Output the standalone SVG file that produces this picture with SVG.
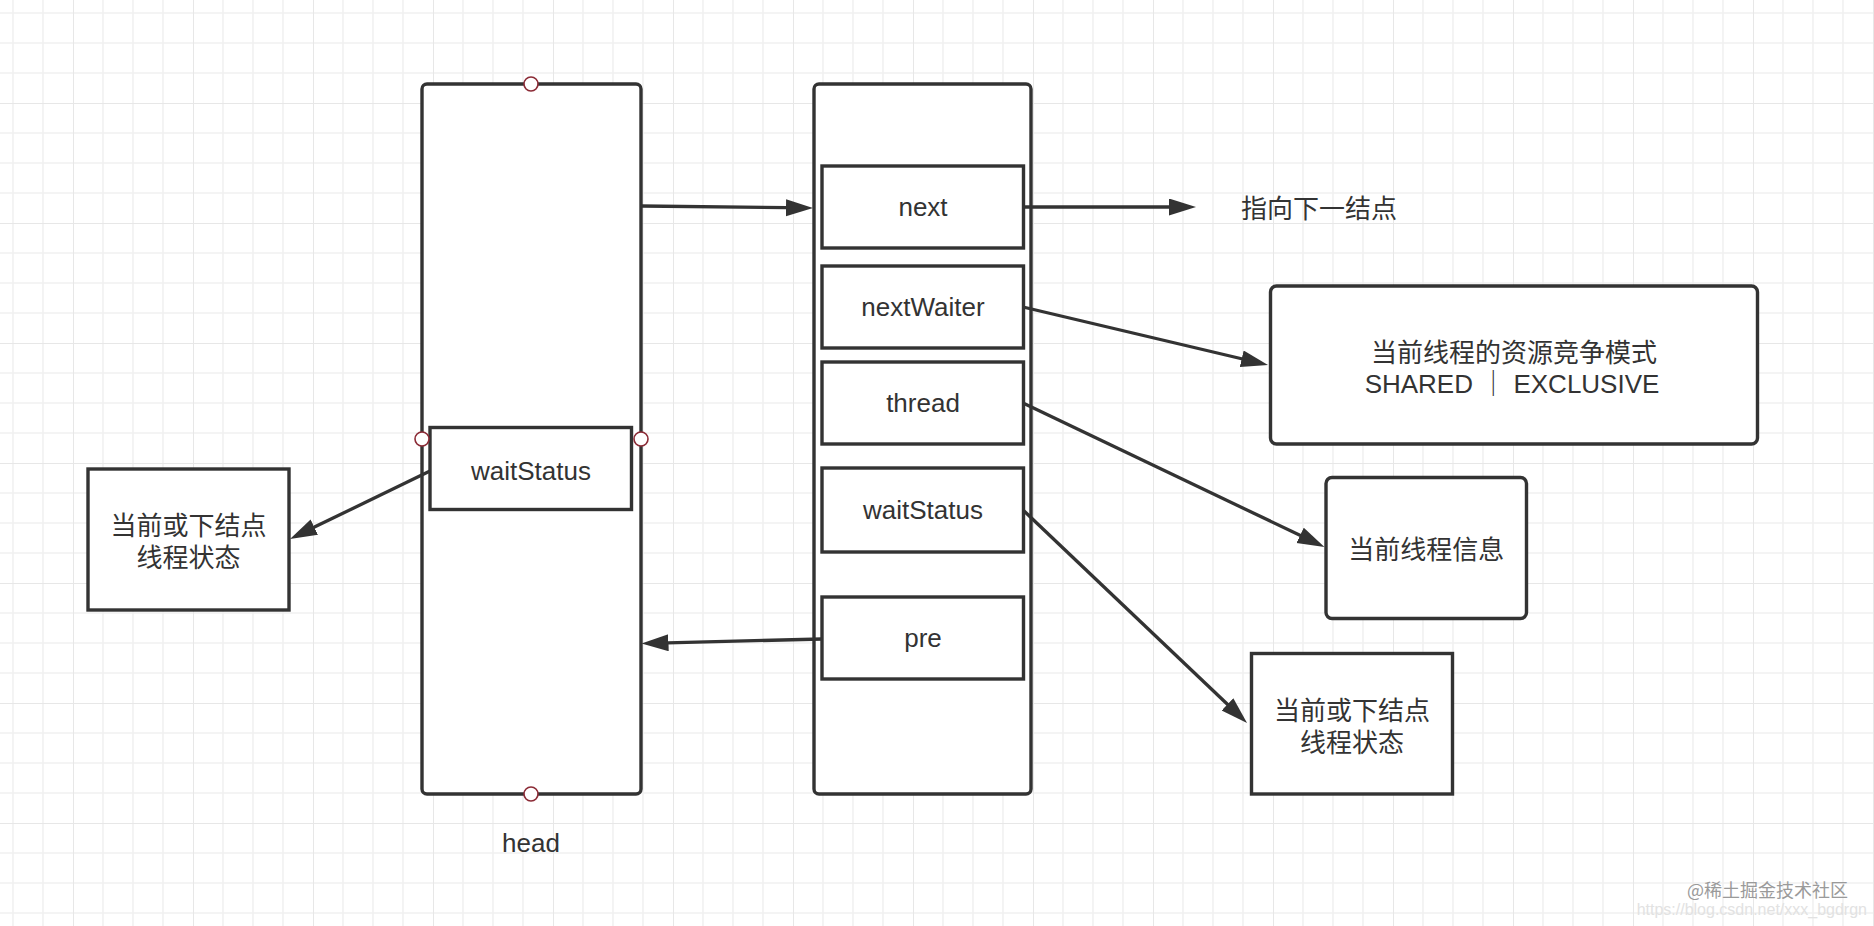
<svg xmlns="http://www.w3.org/2000/svg" width="1874" height="926" viewBox="0 0 1874 926">
<style>
.box{fill:#ffffff;stroke:#333333;stroke-width:3.4}
.lbl{font-family:"Liberation Sans",Arial,"Noto Sans CJK SC",sans-serif;font-size:26px;fill:#333333;text-anchor:middle}
.cjk{font-family:"Liberation Sans","Noto Sans CJK SC",sans-serif;font-size:26px;fill:#333333;text-anchor:middle}
.pt{fill:#ffffff;stroke:#8b2a35;stroke-width:1.6}
.edge{fill:none;stroke:#333333;stroke-width:3.3}
.wm{font-family:"Noto Sans CJK SC","Liberation Sans",sans-serif;text-anchor:end}
</style>
<defs>
<pattern id="grid" x="73" y="103" width="120" height="120" patternUnits="userSpaceOnUse">
<path d="M30,0V120M60,0V120M90,0V120M0,30H120M0,60H120M0,90H120" stroke="#f1f1f1" stroke-width="1.6" fill="none"/>
<path d="M0,0V120M0,0H120" stroke="#e7e7e7" stroke-width="2" fill="none"/>
</pattern>
<marker id="arr" markerUnits="userSpaceOnUse" markerWidth="28" markerHeight="18" refX="1" refY="8.5" orient="auto">
<path d="M0,0L27,8.5L0,17z" fill="#333333"/>
</marker>
</defs>
<rect width="1874" height="926" fill="#ffffff"/>
<rect width="1874" height="926" fill="url(#grid)"/>

<g id="head">
<rect class="box" x="422" y="84" width="219" height="710" rx="5"/>
<g id="head-waitStatus">
<rect class="box" x="430" y="427.5" width="201.5" height="82"/>
<text class="lbl" x="531" y="480">waitStatus</text>
</g>
<circle class="pt" cx="531" cy="84" r="7"/>
<circle class="pt" cx="531" cy="794" r="7"/>
<circle class="pt" cx="422" cy="439" r="7"/>
<circle class="pt" cx="641" cy="439" r="7"/>
<text class="lbl" x="531" y="852">head</text>
</g>

<g id="node">
<rect class="box" x="814" y="84" width="217" height="710" rx="5"/>
<g id="f-next"><rect class="box" x="822" y="166" width="201.5" height="82"/><text class="lbl" x="923" y="216">next</text></g>
<g id="f-nextWaiter"><rect class="box" x="822" y="266" width="201.5" height="82"/><text class="lbl" x="923" y="316">nextWaiter</text></g>
<g id="f-thread"><rect class="box" x="822" y="362" width="201.5" height="82"/><text class="lbl" x="923" y="412">thread</text></g>
<g id="f-waitStatus"><rect class="box" x="822" y="468" width="201.5" height="84"/><text class="lbl" x="923" y="519">waitStatus</text></g>
<g id="f-pre"><rect class="box" x="822" y="597" width="201.5" height="82"/><text class="lbl" x="923" y="647">pre</text></g>
</g>

<g id="next-label">
<text class="cjk" x="1241" y="218" style="text-anchor:start">指向下一结点</text>
</g>

<g id="mode-box">
<rect class="box" x="1270.5" y="286" width="487" height="158" rx="6"/>
<text class="cjk" x="1514" y="362">当前线程的资源竞争模式</text>
<text class="lbl" x="1512" y="393">SHARED ｜ EXCLUSIVE</text>
</g>

<g id="thread-box">
<rect class="box" x="1326" y="477.5" width="200.5" height="141" rx="6"/>
<text class="cjk" x="1426.3" y="559">当前线程信息</text>
</g>

<g id="status-box-right">
<rect class="box" x="1251.5" y="653.5" width="201" height="140.5"/>
<text class="cjk" x="1352" y="720">当前或下结点</text>
<text class="cjk" x="1352" y="752">线程状态</text>
</g>

<g id="status-box-left">
<rect class="box" x="88" y="469" width="201" height="141"/>
<text class="cjk" x="188.5" y="535">当前或下结点</text>
<text class="cjk" x="188.5" y="567">线程状态</text>
</g>

<g id="connectors">
<path class="edge" d="M641,206L787,207.7" marker-end="url(#arr)"/>
<path class="edge" d="M1023,207L1170,207" marker-end="url(#arr)"/>
<path class="edge" d="M1023,307L1242.7,359" marker-end="url(#arr)"/>
<path class="edge" d="M1023,403L1301,535.8" marker-end="url(#arr)"/>
<path class="edge" d="M1023,510L1228.2,705" marker-end="url(#arr)"/>
<path class="edge" d="M822,639L667.5,642.85" marker-end="url(#arr)"/>
<path class="edge" d="M430,471L313.4,527.6" marker-end="url(#arr)"/>
</g>

<g id="watermark">
<text class="wm" x="1848" y="897" font-size="18" fill="#9a9a9a">@稀土掘金技术社区</text>
<text class="wm" x="1867" y="915" font-size="16" fill="#e2e2e2" style="font-family:'Liberation Sans',sans-serif">https://blog.csdn.net/xxx_bgdrgn</text>
</g>
</svg>
